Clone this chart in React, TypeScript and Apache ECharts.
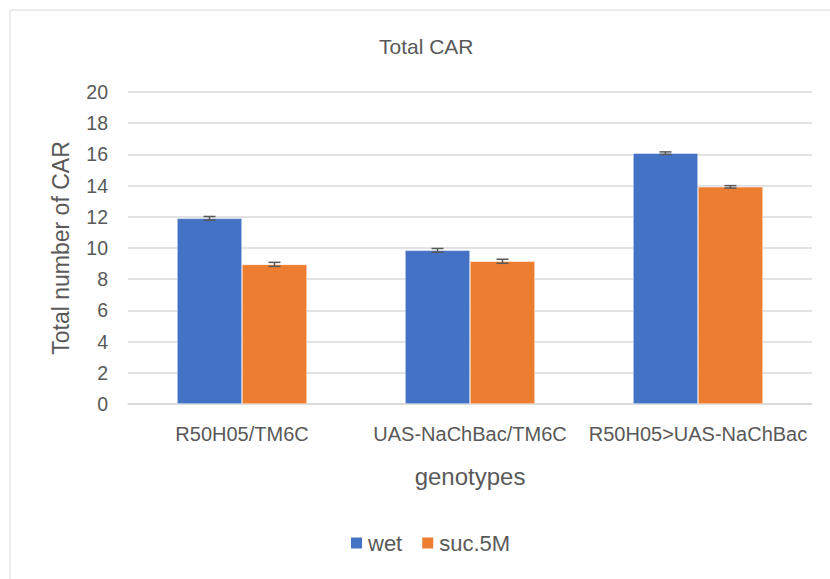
import React, { useEffect, useRef } from "react";
import * as echarts from "echarts";

const categories = ["R50H05/TM6C", "UAS-NaChBac/TM6C", "R50H05>UAS-NaChBac"];
const wetValues = [11.9, 9.85, 16.08];
const sucValues = [8.95, 9.15, 13.92];
const wetErrors = [0.12, 0.12, 0.08];
const sucErrors = [0.13, 0.13, 0.08];
const seriesNames = ["wet", "suc.5M"];

const FONT = "'Liberation Sans', 'Open Sans', sans-serif";

function errorSeries(values: number[], errors: number[], offset: number) {
  return {
    type: "custom",
    silent: true,
    z: 5,
    data: values.map((v, i) => [i, v - errors[i], v + errors[i]]),
    renderItem: (params: any, api: any) => {
      const idx = api.value(0);
      const lo = api.coord([idx, api.value(1)]);
      const hi = api.coord([idx, api.value(2)]);
      const bandW = api.size([1, 0])[0];
      const x = lo[0] + offset * bandW;
      const cap = 6;
      const style = { stroke: "#595959", lineWidth: 1.5 };
      return {
        type: "group",
        children: [
          { type: "line", shape: { x1: x, y1: lo[1], x2: x, y2: hi[1] }, style },
          { type: "line", shape: { x1: x - cap, y1: lo[1], x2: x + cap, y2: lo[1] }, style },
          { type: "line", shape: { x1: x - cap, y1: hi[1], x2: x + cap, y2: hi[1] }, style },
        ],
      };
    },
  };
}

export default function App() {
  const ref = useRef<HTMLDivElement>(null);
  useEffect(() => {
    const chart = echarts.init(ref.current!, null, { renderer: "svg" });
    const barFrac = 65 / 228;
    chart.setOption({
      animation: false,
      backgroundColor: "#ffffff",
      graphic: [
        {
          type: "rect",
          shape: { x: 10, y: 10, width: 840, height: 600 },
          style: { fill: "none", stroke: "#d9d9d9", lineWidth: 1 },
          silent: true,
        },
      ],
      title: {
        text: "Total CAR",
        left: 374,
        top: 31,
        textStyle: { fontFamily: FONT, fontSize: 21, fontWeight: "normal", color: "#595959" },
      },
      legend: {
        data: seriesNames,
        bottom: 20,
        left: 344,
        itemWidth: 13,
        itemHeight: 13,
        itemGap: 18,
        icon: "rect",
        textStyle: { fontFamily: FONT, fontSize: 22, color: "#595959" },
      },
      grid: { left: 128, right: 18, top: 92, bottom: 175, containLabel: false },
      xAxis: {
        type: "category",
        data: categories,
        name: "genotypes",
        nameLocation: "middle",
        nameGap: 60,
        nameTextStyle: { fontFamily: FONT, fontSize: 24, color: "#595959" },
        axisLine: { lineStyle: { color: "#d9d9d9", width: 1.5 } },
        axisTick: { show: false },
        axisLabel: { interval: 0, fontFamily: FONT, fontSize: 20, color: "#595959", margin: 20 },
      },
      yAxis: {
        type: "value",
        min: 0,
        max: 20,
        interval: 2,
        name: "Total number of CAR",
        nameLocation: "middle",
        nameGap: 56,
        nameTextStyle: { fontFamily: FONT, fontSize: 23, color: "#595959" },
        axisLine: { show: false },
        axisTick: { show: false },
        axisLabel: { fontFamily: FONT, fontSize: 19.5, color: "#595959", margin: 20 },
        splitLine: { lineStyle: { color: "#d9d9d9", width: 1.5 } },
      },
      series: [
        {
          name: seriesNames[0],
          type: "bar",
          data: wetValues,
          barWidth: "28.5%",
          barGap: "0%",
          itemStyle: { color: "#4472c4", borderColor: "#ffffff", borderWidth: 0.5 },
        },
        {
          name: seriesNames[1],
          type: "bar",
          data: sucValues,
          barWidth: "28.5%",
          barGap: "0%",
          itemStyle: { color: "#ed7d31", borderColor: "#ffffff", borderWidth: 0.5 },
        },
        errorSeries(wetValues, wetErrors, -barFrac / 2),
        errorSeries(sucValues, sucErrors, barFrac / 2),
      ],
    });
    return () => chart.dispose();
  }, []);
  return (
    <div
      ref={ref}
      style={{ position: "absolute", left: 0, top: 0, width: 830, height: 579 }}
    />
  );
}
